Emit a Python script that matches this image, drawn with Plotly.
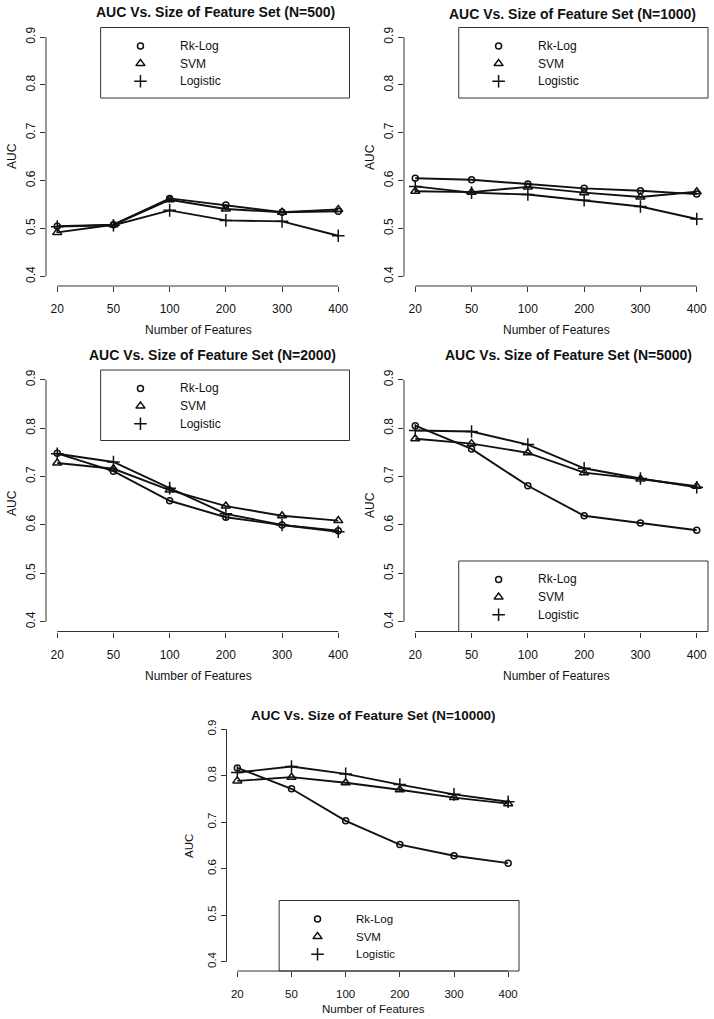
import plotly.graph_objects as go

# ---------------- data ----------------
features = ["20", "50", "100", "200", "300", "400"]
series_names = ["Rk-Log", "SVM", "Logistic"]
titles = ["AUC Vs. Size of Feature Set (N=500)",
          "AUC Vs. Size of Feature Set (N=1000)",
          "AUC Vs. Size of Feature Set (N=2000)",
          "AUC Vs. Size of Feature Set (N=5000)",
          "AUC Vs. Size of Feature Set (N=10000)"]
y_ticks = [0.4, 0.5, 0.6, 0.7, 0.8, 0.9]

rk_500 = [0.505, 0.508, 0.563, 0.549, 0.534, 0.536]
svm_500 = [0.492, 0.508, 0.560, 0.541, 0.534, 0.540]
log_500 = [0.504, 0.507, 0.538, 0.517, 0.515, 0.485]

rk_1000 = [0.605, 0.602, 0.593, 0.584, 0.579, 0.572]
svm_1000 = [0.578, 0.576, 0.587, 0.575, 0.566, 0.577]
log_1000 = [0.588, 0.575, 0.571, 0.559, 0.546, 0.520]

rk_2000 = [0.748, 0.711, 0.650, 0.616, 0.600, 0.588]
svm_2000 = [0.728, 0.716, 0.672, 0.639, 0.619, 0.609]
log_2000 = [0.747, 0.730, 0.676, 0.623, 0.600, 0.586]

rk_5000 = [0.805, 0.757, 0.681, 0.619, 0.604, 0.589]
svm_5000 = [0.778, 0.768, 0.749, 0.708, 0.695, 0.680]
log_5000 = [0.795, 0.793, 0.766, 0.717, 0.696, 0.678]

rk_10000 = [0.817, 0.772, 0.703, 0.652, 0.628, 0.612]
svm_10000 = [0.789, 0.797, 0.785, 0.770, 0.753, 0.740]
log_10000 = [0.807, 0.820, 0.804, 0.781, 0.760, 0.744]

panels_data = [
    (rk_500, svm_500, log_500),
    (rk_1000, svm_1000, log_1000),
    (rk_2000, svm_2000, log_2000),
    (rk_5000, svm_5000, log_5000),
    (rk_10000, svm_10000, log_10000),
]

# ---------------- layout (pixels) ----------------
W, H = 714, 1019
# plot regions: x0, x1, y0(top), y1(bottom)
regions = [
    (46.0, 349.5, 27.5, 286.0),
    (404.0, 708.0, 27.5, 286.0),
    (46.0, 349.5, 370.0, 631.5),
    (404.0, 708.0, 370.0, 631.5),
    (226.5, 519.0, 720.0, 971.0),
]
title_pos = [(215, 12), (572, 14), (212, 355), (568, 355), (373, 715)]
auc_pos = [(12, 156), (370, 157), (12, 503), (370, 505), (189, 846)]
nof_pos = [(198, 330), (556, 330), (198, 676), (556, 676), (373, 1009)]
legend_top = [True, True, True, False, False]
font_scale = [1, 1, 1, 1, 0.96]

symbols = ["circle-open", "triangle-up-open", "cross-thin-open"]
sizes = [6, 8, 9]
INK = "#111111"
AX = "#333333"
FONT = "Liberation Sans, Arial, sans-serif"


def fx(px):
    return px / W


def fy(py):
    return 1 - py / H


fig = go.Figure()
shapes = []
annotations = []
layout_axes = {}
xs = list(range(1, len(features) + 1))

for i, (data, reg) in enumerate(zip(panels_data, regions)):
    k = i + 1
    x0, x1, y0, y1 = reg
    fs = font_scale[i]
    xa = "x" if k == 1 else f"x{k}"
    ya = "y" if k == 1 else f"y{k}"
    xname = "xaxis" if k == 1 else f"xaxis{k}"
    yname = "yaxis" if k == 1 else f"yaxis{k}"
    layout_axes[xname] = dict(
        domain=[fx(x0), fx(x1)], range=[0.8, len(features) + 0.2],
        tickvals=xs, ticktext=features, ticks="outside", ticklen=5,
        tickcolor=AX, tickwidth=1, showline=False, showgrid=False,
        zeroline=False, anchor=ya, tickfont=dict(size=12 * fs, color=INK, family=FONT),
        ticklabelstandoff=7,
    )
    layout_axes[yname] = dict(
        domain=[fy(y1), fy(y0)], range=[0.38, 0.92],
        tickvals=y_ticks, ticktext=[f"{v:.1f}" for v in y_ticks],
        tickangle=-90, ticks="outside", ticklen=5, tickcolor=AX, tickwidth=1,
        showline=False, showgrid=False, zeroline=False, anchor=xa,
        tickfont=dict(size=12 * fs, color=INK, family=FONT),
        ticklabelstandoff=0,
    )
    for s, vals in enumerate(data):
        fig.add_trace(go.Scatter(
            x=xs, y=vals, mode="lines+markers", xaxis=xa, yaxis=ya,
            name=series_names[s], showlegend=False,
            line=dict(color=INK, width=1.9),
            marker=dict(symbol=symbols[s], size=sizes[s], color=INK,
                        line=dict(width=1.5, color=INK)),
        ))
    # R-style axis lines (first tick to last tick)
    shapes.append(dict(type="line", xref=xa, yref=f"{ya} domain",
                       x0=xs[0], x1=xs[-1], y0=0, y1=0,
                       line=dict(color=AX, width=1)))
    shapes.append(dict(type="line", xref=f"{xa} domain", yref=ya,
                       x0=0, x1=0, y0=y_ticks[0], y1=y_ticks[-1],
                       line=dict(color=AX, width=1)))

    # titles and axis labels
    tx, ty = title_pos[i]
    annotations.append(dict(text=f"<b>{titles[i]}</b>", x=fx(tx), y=fy(ty),
                            xref="paper", yref="paper", showarrow=False,
                            xanchor="center", yanchor="middle",
                            font=dict(size=14 * fs, color=INK, family=FONT)))
    ax_, ay_ = auc_pos[i]
    annotations.append(dict(text="AUC", x=fx(ax_), y=fy(ay_), xref="paper",
                            yref="paper", showarrow=False, textangle=-90,
                            xanchor="center", yanchor="middle",
                            font=dict(size=12 * fs, color=INK, family=FONT)))
    nx, ny = nof_pos[i]
    annotations.append(dict(text="Number of Features", x=fx(nx), y=fy(ny),
                            xref="paper", yref="paper", showarrow=False,
                            xanchor="center", yanchor="middle",
                            font=dict(size=12 * fs, color=INK, family=FONT)))

    # legend box
    bw = 0.82 * (x1 - x0)
    bh = 70.5
    lx0, lx1 = x1 - bw, x1
    if legend_top[i]:
        ly0, ly1 = y0, y0 + bh
    else:
        ly0, ly1 = y1 - bh, y1
    shapes.append(dict(type="rect", xref="paper", yref="paper",
                       x0=fx(lx0), x1=fx(lx1), y0=fy(ly1), y1=fy(ly0),
                       line=dict(color=AX, width=1), fillcolor="rgba(0,0,0,0)"))
    lk = k + 5
    lxname, lyname = f"xaxis{lk}", f"yaxis{lk}"
    layout_axes[lxname] = dict(domain=[fx(lx0), fx(lx1)], range=[0, 1],
                               visible=False, anchor=f"y{lk}", fixedrange=True)
    layout_axes[lyname] = dict(domain=[fy(ly1), fy(ly0)], range=[0, 1],
                               visible=False, anchor=f"x{lk}", fixedrange=True)
    rows = [1 - 0.262, 1 - 0.512, 1 - 0.762]
    for s in range(3):
        fig.add_trace(go.Scatter(
            x=[0.16], y=[rows[s]], mode="markers", xaxis=f"x{lk}", yaxis=f"y{lk}",
            showlegend=False, hoverinfo="skip",
            marker=dict(symbol=symbols[s], size=sizes[s], color=INK,
                        line=dict(width=1.5, color=INK)),
        ))
        annotations.append(dict(text=series_names[s], x=0.31, y=rows[s],
                                xref=f"x{lk}", yref=f"y{lk}", showarrow=False,
                                xanchor="left", yanchor="middle",
                                font=dict(size=12 * fs, color=INK, family=FONT)))

fig.update_layout(
    width=W, height=H, margin=dict(l=0, r=0, t=0, b=0),
    paper_bgcolor="white", plot_bgcolor="white",
    showlegend=False, shapes=shapes, annotations=annotations,
    font=dict(family=FONT, color=INK),
    **layout_axes,
)

fig.write_html(
    "out.html",
    config={"displayModeBar": False},
    post_script="document.body.style.margin='0';document.body.style.overflow='hidden';",
)
